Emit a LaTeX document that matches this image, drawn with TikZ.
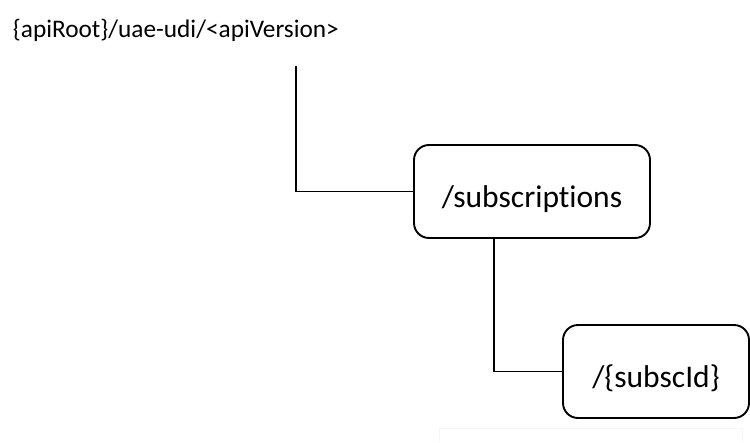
\documentclass[tikz,border=0pt]{standalone}
\usepackage{fontspec}
\setmainfont{Carlito}[RawFeature=-liga]
\begin{document}
\begin{tikzpicture}[x=1pt,y=-1pt,line width=1.9pt,
res/.style={draw,rounded corners=15pt,inner sep=0pt,minimum height=93pt,
  text height=36pt,text depth=5pt,font=\fontsize{31.5}{36}\selectfont}]
\def\drop{296}
\useasboundingbox (0,0) rectangle (750,442);
\node[anchor=base west,inner sep=0pt,font=\fontsize{25.3}{30}\selectfont] (root) at (12,37) {\{apiRoot\}/uae-udi/<apiVersion>};
\node[res,minimum width=236pt] (subs) at (532,191.5) {/subscriptions};
\node[res,minimum width=186pt] (subsc) at (656,371.5) {/\{subscId\}};
\coordinate (rootdrop) at (\drop,66);
\draw (rootdrop) |- (subs.west);
\draw ([xshift=81pt]subs.south west) |- (subsc.west);
% faint frame at the bottom
\draw[line width=0.6pt,gray!8] (439,442) |- (742,428) -- (742,442);
\end{tikzpicture}
\end{document}
